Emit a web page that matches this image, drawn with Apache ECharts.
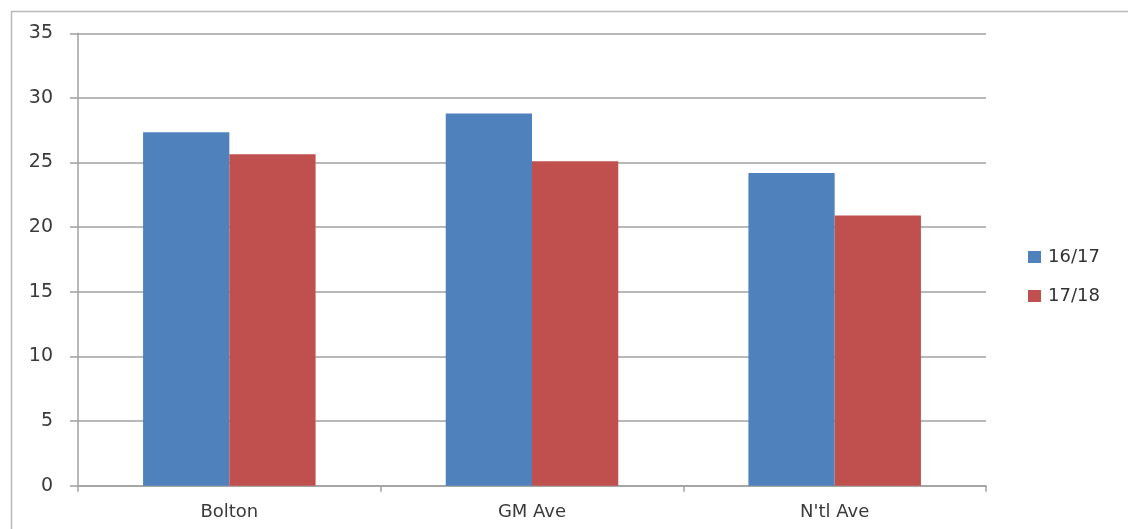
<!DOCTYPE html>
<html>
<head>
<meta charset="utf-8">
<script src="https://cdn.jsdelivr.net/npm/echarts@6/dist/echarts.min.js"></script>
<style>html,body{margin:0;padding:0;background:#fff}#c{width:1128px;height:529px}</style>
</head>
<body>
<div id="c"></div>
<script>
const categories = ["Bolton", "GM Ave", "N'tl Ave"];
const series1617 = [27.35, 28.8, 24.2];
const series1718 = [25.65, 25.1, 20.9];
const yTicks = { min: 0, max: 35, interval: 5 };

const chart = echarts.init(document.getElementById('c'));
const font = 'DejaVu Sans';
chart.setOption({
  animation: false,
  backgroundColor: '#fff',
  graphic: [{
    type: 'rect', silent: true, z: -1,
    shape: { x: 11.5, y: 11.5, width: 1200, height: 600 },
    style: { fill: 'none', stroke: '#b8b8b8', lineWidth: 1.5 }
  }],
  grid: { left: 78, right: 142, top: 33.3, bottom: 43.3, containLabel: false },
  legend: {
    orient: 'vertical', left: 1028, top: 248, padding: 0,
    itemWidth: 13, itemHeight: 12, itemGap: 21,
    icon: 'rect',
    textStyle: { fontFamily: font, fontSize: 18, color: '#333', padding: [0, 0, 0, 2] },
    data: ['16/17', '17/18']
  },
  xAxis: {
    type: 'category', data: categories,
    axisLine: { lineStyle: { color: '#a0a0a0', width: 1.5 } },
    axisTick: { show: true, length: 6, inside: false, lineStyle: { color: '#a0a0a0', width: 1.5 } },
    axisLabel: { fontFamily: font, fontSize: 18, color: '#3a3a3a', margin: 18 }
  },
  yAxis: {
    type: 'value', min: yTicks.min, max: yTicks.max, interval: yTicks.interval,
    axisLine: { show: true, lineStyle: { color: '#a0a0a0', width: 1.5 } },
    axisTick: { show: true, length: 8, lineStyle: { color: '#a0a0a0', width: 1.5 } },
    splitLine: { lineStyle: { color: '#a0a0a0', width: 1.5 } },
    axisLabel: { fontFamily: font, fontSize: 19, color: '#3a3a3a', margin: 25 }
  },
  series: [
    { name: '16/17', type: 'bar', data: series1617, barGap: '0%', barCategoryGap: '43%',
      itemStyle: { color: '#4F81BD' } },
    { name: '17/18', type: 'bar', data: series1718, barGap: '0%', barCategoryGap: '43%',
      itemStyle: { color: '#C0504D' } }
  ]
});
</script>
</body>
</html>
